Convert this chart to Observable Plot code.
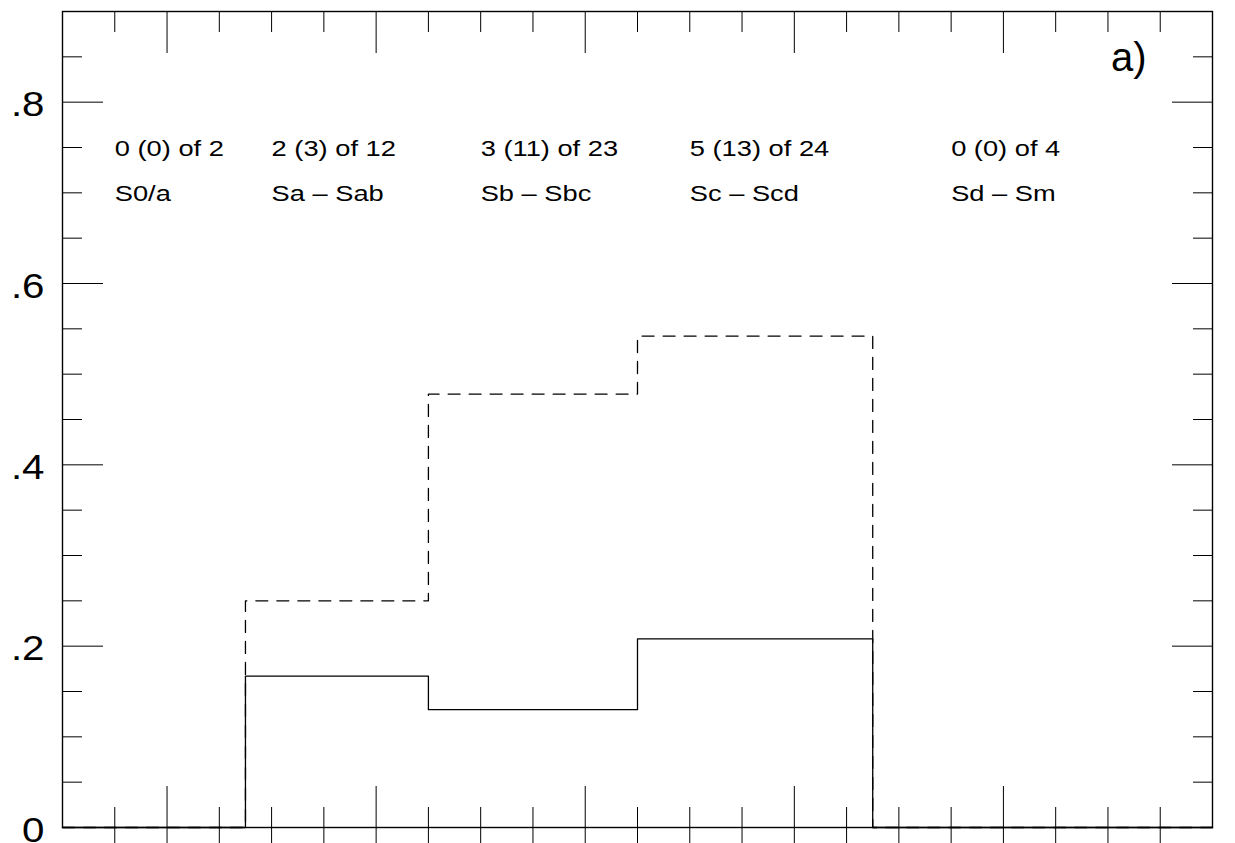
<!DOCTYPE html>
<html>
<head>
<meta charset="utf-8">
<script src="https://cdn.jsdelivr.net/npm/d3@7"></script>
<script src="https://cdn.jsdelivr.net/npm/@observablehq/plot@0.6"></script>
<style>
  html, body { margin: 0; padding: 0; background: #fff; }
  #chart svg { display: block; }
</style>
</head>
<body>
<div id="chart"></div>
<script>
// ---- data ----
const typeLabels = ["S0/a", "Sa \u2013 Sab", "Sb \u2013 Sbc", "Sc \u2013 Scd", "Sd \u2013 Sm"];
const nSecure = [0, 2, 3, 5, 0];
const nAll = [0, 3, 11, 13, 0];
const nTotal = [2, 12, 23, 24, 4];
const fracSecure = [0, 0.167, 0.130, 0.208, 0];   // solid histogram
const fracAll = [0, 0.250, 0.478, 0.542, 0];      // dashed histogram
const binEdges = [0, 3.5, 7, 11, 15.5, 22];
const labelX = [1, 4, 8, 12, 17];
const xMinorTicks = [1, 3, 4, 5, 7, 8, 9, 11, 12, 13, 15, 16, 17, 19, 20, 21];
const xMajorTicks = [2, 6, 10, 14, 18];
const yMinorTicks = [0.05, 0.1, 0.15, 0.25, 0.3, 0.35, 0.45, 0.5, 0.55, 0.65, 0.7, 0.75, 0.85];
const yMajorTicks = [0.2, 0.4, 0.6, 0.8];
const yLabelTicks = [0, 0.2, 0.4, 0.6, 0.8];
const rowY = [0.75, 0.70];
const panelLabel = "a)";

// ---- helpers ----
const fmtY = d => d === 0 ? "0" : d3.format(".1f")(d).replace(/^0/, "");
const stepPoints = vals => binEdges.map((e, i) => ({x: e, y: i < vals.length ? vals[i] : vals[vals.length - 1]}));
const rows = typeLabels.map((t, i) => ({
  x: labelX[i],
  count: `${nSecure[i]} (${nAll[i]}) of ${nTotal[i]}`,
  type: t
}));
const tickOpts = (anchor, size) => ({anchor, tickSize: size, fill: "none", label: null, stroke: "black", strokeWidth: 1});

const svg = Plot.plot({
  width: 1235,
  height: 843,
  marginLeft: 62,
  marginRight: 23,
  marginTop: 11,
  marginBottom: 16,
  x: {domain: [0, 22], label: null},
  y: {domain: [0, 0.9], label: null},
  style: {
    fontFamily: "'Liberation Sans', Arial, Helvetica, sans-serif",
    background: "white",
    color: "black",
    overflow: "visible"
  },
  marks: [
    // x ticks: bottom (crossing the axis) and top (inward)
    Plot.axisX(xMinorTicks, tickOpts("bottom", -20)),
    Plot.axisX(xMinorTicks, tickOpts("bottom", 20)),
    Plot.axisX(xMajorTicks, tickOpts("bottom", -41)),
    Plot.axisX(xMajorTicks, tickOpts("bottom", 20)),
    Plot.axisX(xMinorTicks, tickOpts("top", -20)),
    Plot.axisX(xMajorTicks, tickOpts("top", -41)),
    // y ticks: left and right, inward
    Plot.axisY(yMinorTicks, tickOpts("left", -20)),
    Plot.axisY(yMajorTicks, tickOpts("left", -41)),
    Plot.axisY(yMinorTicks, tickOpts("right", -20)),
    Plot.axisY(yMajorTicks, tickOpts("right", -41)),
    // y tick labels
    Plot.axisY(yLabelTicks, {anchor: "left", tickSize: 0, tickPadding: 18, fontSize: 35,
      tickFormat: fmtY, label: null, dy: 3, fill: "black"}),
    Plot.frame({stroke: "black", strokeWidth: 1.4}),
    // histograms
    Plot.line(stepPoints(fracAll), {x: "x", y: "y", curve: "step-after", stroke: "black",
      strokeWidth: 1.3, strokeDasharray: "12,9"}),
    Plot.line(stepPoints(fracSecure), {x: "x", y: "y", curve: "step-after", stroke: "black",
      strokeWidth: 1.3}),
    // category annotations
    Plot.text(rows, {x: "x", y: () => rowY[0], text: "count", textAnchor: "start",
      lineAnchor: "middle", fontSize: 22, fill: "black", dy: 1}),
    Plot.text(rows, {x: "x", y: () => rowY[1], text: "type", textAnchor: "start",
      lineAnchor: "middle", fontSize: 22, fill: "black", dy: 1}),
    Plot.text([panelLabel], {frameAnchor: "top-right", text: d => d, textAnchor: "end",
      lineAnchor: "bottom", dx: -66, dy: 59, fontSize: 40, fill: "black"})
  ]
});

// widen glyphs horizontally, as in the original figure
function widen(fontSize, k) {
  d3.select(svg).selectAll("g").filter(function () {
    return this.getAttribute("font-size") === String(fontSize);
  }).selectAll("text").each(function () {
    const tr = this.getAttribute("transform") || "";
    this.setAttribute("transform", `${tr} scale(${k},1)`);
  });
}
widen(22, 1.24);
widen(35, 1.15);

document.getElementById("chart").appendChild(svg);
</script>
</body>
</html>
